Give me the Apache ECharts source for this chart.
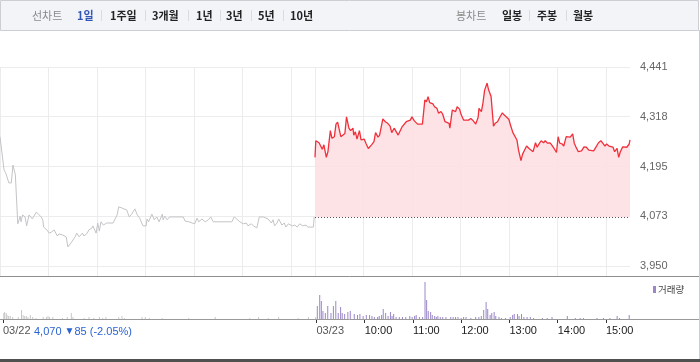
<!DOCTYPE html>
<html><head><meta charset="utf-8">
<script src="https://cdn.jsdelivr.net/npm/echarts@6.0.0/dist/echarts.min.js"></script>
<style>html,body{margin:0;padding:0;background:#fff}#c{width:700px;height:362px}</style>
</head><body><div id="c"></div>
<script>
// ---- data ----
const day1Minutes = [0,5,7,9,11,14,16,19,21,22,25,26,28,31,33,36,40,42,45,47,51,53,54,58,61,64,67,71,73,77,79,82,84,88,90,93,95,98,102,104,108,110,114,115,119,121,123,125,128,132,140,145,147,151,157,160,163,167,170,173,177,181,182,184,188,191,194,197,201,202,204,207,210,214,227,229,234,238,241,244,246,250,254,258,261,264,287,290,293,297,301,305,307,311,314,318,321,326,328,332,336,338,340,343,345,349,352,354,357,362,365,368,371,375,379,381,388,389];
const day1Prices = [4269,4187,4180,4182,4155,4155,4199,4175,4172,4054,4073,4059,4076,4071,4049,4076,4066,4068,4083,4081,4071,4064,4046,4039,4031,4034,4039,4024,4029,4027,4029,4022,3997,4007,4004,4022,4031,4022,4031,4024,4031,4039,4044,4049,4031,4056,4036,4059,4051,4056,4056,4076,4096,4093,4088,4071,4078,4091,4076,4068,4049,4049,4066,4059,4078,4064,4071,4059,4078,4064,4073,4064,4071,4071,4071,4061,4059,4056,4054,4068,4059,4066,4059,4064,4071,4059,4059,4071,4066,4059,4054,4056,4049,4054,4049,4044,4071,4071,4073,4066,4056,4064,4049,4056,4066,4051,4056,4046,4054,4049,4051,4046,4054,4049,4051,4046,4046,4071];
const day2Minutes = [390,391,395,399,401,404,406,409,411,414,416,418,420,422,424,427,429,432,434,437,438,440,442,445,447,451,453,456,460,463,465,468,470,474,477,480,483,485,488,490,493,495,498,500,503,505,508,510,513,514,517,523,526,528,530,532,536,538,541,543,546,548,551,553,556,557,560,562,564,566,569,571,574,580,583,586,589,592,593,596,598,600,603,605,608,611,613,616,618,620,622,624,626,630,632,635,637,640,642,645,647,650,652,655,657,660,663,665,668,670,673,675,678,681,683,686,689,691,693,696,698,701,703,706,709,711,713,716,720,723,726,729,731,735,738,741,744,746,749,751,754,756,759,761,764,766,768,771,776,779,780];
const day2Prices = [4218,4259,4254,4238,4249,4218,4232,4284,4265,4269,4300,4305,4305,4269,4265,4277,4318,4290,4284,4290,4273,4281,4263,4284,4261,4263,4253,4240,4249,4257,4279,4268,4273,4313,4306,4302,4295,4279,4290,4289,4273,4269,4294,4298,4306,4302,4310,4318,4308,4310,4300,4300,4360,4355,4368,4353,4350,4343,4339,4327,4331,4325,4306,4308,4302,4290,4335,4339,4331,4343,4337,4323,4310,4310,4314,4308,4300,4317,4339,4331,4353,4384,4401,4384,4368,4295,4302,4306,4314,4310,4328,4323,4325,4312,4298,4279,4281,4261,4236,4210,4226,4238,4246,4240,4243,4232,4254,4243,4253,4259,4254,4259,4253,4254,4249,4240,4230,4269,4253,4251,4246,4269,4265,4268,4276,4253,4244,4232,4234,4244,4243,4236,4240,4234,4244,4254,4259,4254,4246,4251,4246,4249,4243,4232,4240,4218,4232,4244,4243,4251,4261];
const prevClose = 4070;
const vol1Minutes = [1,2,4,5,7,9,12,19,23,25,27,29,31,34,37,41,50,54,56,58,62,74,80,85,87,101,107,113,120,124,128,144,148,151,173,177,182,198,231,264,307,318,330,343,367,380,389];
const vol1Values = [60,70,60,40,30,30,20,20,90,40,30,30,20,40,20,10,20,20,30,20,20,10,20,60,20,10,20,10,20,10,20,20,30,10,20,20,10,10,10,20,10,20,10,20,10,20,20];
const vol2Minutes = [391,394,396,398,401,404,408,411,414,417,420,422,425,429,432,437,441,444,448,452,456,459,462,466,468,471,473,476,479,482,484,486,489,493,497,501,506,509,512,514,518,522,525,527,529,532,534,537,539,541,544,547,551,557,560,563,566,570,573,576,582,588,592,595,598,601,603,606,608,611,613,617,620,625,631,634,636,640,642,645,648,652,656,660,671,677,683,702,712,718,722,739,747,755,764,767,779];
const vol2Values = [130,240,180,80,60,130,60,130,180,60,120,60,50,70,80,50,40,50,30,40,40,30,20,20,30,40,100,60,30,70,30,50,20,20,20,20,30,20,30,40,20,20,370,190,80,70,40,30,20,30,20,20,20,20,20,20,20,10,20,20,10,20,20,30,90,170,100,40,60,70,30,20,10,10,20,40,50,50,30,50,20,20,20,10,10,10,20,30,10,10,10,10,10,10,30,10,40];
const yTickValues = [3950, 4072.75, 4195.5, 4318.25, 4441];
const yTickLabels = ['3,950','4,073','4,195','4,318','4,441'];
const gridMinutes = [0,60,120,180,240,300,360,390,450,510,570,630,690,750];
const xTickMinutes = [0,390,450,510,570,630,690,750];
const xTickLabels = ['03/22','03/23','10:00','11:00','12:00','13:00','14:00','15:00'];
const periodTabs = ['1일','1주일','3개월','1년','3년','5년','10년'];
const candleTabs = ['일봉','주봉','월봉'];
const lineTabTitle = '선차트';
const candleTabTitle = '봉차트';
const volumeLegend = '거래량';
const dayInfoText = '4,070 {t|▼}85 (-2.05%)';

// ---- layout ----
const periodTabX = [77,110,152,196,226,258,290];
const periodSepX = [101,145,188,220,251,283];
const candleTabX = [502,537,573];
const candleSepX = [529,566];
const FONT_NUM = '"Liberation Sans", Arial, sans-serif';
const FONT_KR = '"Noto Sans CJK KR", sans-serif';

const pair = (xs, ys) => xs.map((x, i) => [x, ys[i]]);

const graphics = [];
graphics.push({type:'rect', shape:{x:0.5,y:0.5,width:698,height:30}, style:{fill:'#f3f4f8', stroke:'#cdced4', lineWidth:1}, z:10});
graphics.push({type:'text', style:{text:lineTabTitle, x:32, y:15.5, fill:'#8a8a8a', font:'11px '+FONT_KR, verticalAlign:'middle'}, z:11});
periodTabs.forEach((t, i) => graphics.push({type:'text', style:{text:t, x:periodTabX[i], y:15.5, fill: i===0?'#3157b5':'#222', font:'bold 11px '+FONT_KR, verticalAlign:'middle'}, z:11}));
periodSepX.forEach(x => graphics.push({type:'line', shape:{x1:x+0.5,y1:10,x2:x+0.5,y2:21}, style:{stroke:'#dcdcdf', lineWidth:1}, z:11}));
graphics.push({type:'text', style:{text:candleTabTitle, x:456, y:15.5, fill:'#8a8a8a', font:'11px '+FONT_KR, verticalAlign:'middle'}, z:11});
candleTabs.forEach((t, i) => graphics.push({type:'text', style:{text:t, x:candleTabX[i], y:15.5, fill:'#222', font:'bold 11px '+FONT_KR, verticalAlign:'middle'}, z:11}));
candleSepX.forEach(x => graphics.push({type:'line', shape:{x1:x+0.5,y1:10,x2:x+0.5,y2:21}, style:{stroke:'#dcdcdf', lineWidth:1}, z:11}));
graphics.push({type:'line', shape:{x1:699.5,y1:30,x2:699.5,y2:362}, style:{stroke:'#cdced4', lineWidth:1}, z:10});
graphics.push({type:'line', shape:{x1:0,y1:276.5,x2:699,y2:276.5}, style:{stroke:'#8f8f8f', lineWidth:1}, z:10});
graphics.push({type:'line', shape:{x1:0,y1:319.5,x2:699,y2:319.5}, style:{stroke:'#9a9a9a', lineWidth:1}, z:10});
graphics.push({type:'rect', shape:{x:0,y:359,width:700,height:3}, style:{fill:'#505050'}, z:10});
graphics.push({type:'rect', shape:{x:653,y:286,width:3,height:7}, style:{fill:'#9a86c8'}, z:10});
graphics.push({type:'text', style:{text:volumeLegend, x:658, y:289.5, fill:'#444', font:'9.5px '+FONT_KR, verticalAlign:'middle'}, z:10});
graphics.push({type:'text', style:{text:dayInfoText, x:34, y:331.5, fill:'#2a63d2', font:'11px '+FONT_NUM, verticalAlign:'middle', rich:{t:{fontSize:10, fill:'#2a63d2'}}}, z:10});

const option = {
  animation: false,
  backgroundColor: '#fff',
  graphic: graphics,
  grid: [
    {left:0, right:70, top:67, height:209},
    {left:0, right:70, top:281, height:38}
  ],
  xAxis: [
    {type:'value', gridIndex:0, min:0, max:780, axisLine:{show:false},
     axisTick:{show:false, customValues:gridMinutes}, axisLabel:{show:false},
     splitLine:{show:true, lineStyle:{color:'#ececee', width:1}}},
    {type:'value', gridIndex:1, min:0, max:780, axisLine:{show:false},
     axisTick:{show:true, customValues:xTickMinutes, length:4, lineStyle:{color:'#333'}},
     axisLabel:{customValues:xTickMinutes, align:'left', margin:6, fontSize:11, fontFamily:FONT_NUM,
       formatter: v => xTickLabels[xTickMinutes.indexOf(+v)],
       color: v => (+v === 0 || +v === 390) ? '#555' : '#222'},
     splitLine:{show:false}}
  ],
  yAxis: [
    {type:'value', gridIndex:0, position:'right', min:3925.3, max:4441, axisLine:{show:false},
     axisTick:{show:false, customValues:yTickValues},
     axisLabel:{customValues:yTickValues, margin:10, fontSize:11, fontFamily:FONT_NUM, color:'#666',
       formatter: v => yTickLabels[yTickValues.findIndex(t => Math.abs(t - v) < 0.01)]},
     splitLine:{show:true, lineStyle:{color:'#ececee', width:1}}},
    {type:'value', gridIndex:1, min:0, max:380, show:false, splitLine:{show:false}}
  ],
  series: [
    {type:'line', xAxisIndex:0, yAxisIndex:0, data:pair(day1Minutes, day1Prices), symbol:'none',
     lineStyle:{color:'#c4c4c8', width:1}, silent:true},
    {type:'line', xAxisIndex:0, yAxisIndex:0, data:pair(day2Minutes, day2Prices), symbol:'none',
     lineStyle:{color:'#f0303b', width:1.3}, silent:true,
     areaStyle:{color:'#fde0e3', opacity:0.9, origin:prevClose},
     markLine:{silent:true, symbol:['none','none'], label:{show:false},
       lineStyle:{type:[1,2], color:'#555', width:1},
       data:[[{coord:[390, prevClose]},{coord:[780, prevClose]}]]}},
    {type:'bar', xAxisIndex:1, yAxisIndex:1, data:pair(vol1Minutes, vol1Values), barWidth:1, barGap:'-100%',
     itemStyle:{color:'#c8c8c8'}, silent:true},
    {type:'bar', xAxisIndex:1, yAxisIndex:1, data:pair(vol2Minutes, vol2Values), barWidth:1, barGap:'-100%',
     itemStyle:{color:'#9a86c8'}, silent:true}
  ]
};
const chart = echarts.init(document.getElementById('c'), null, {width:700, height:362});
chart.setOption(option);
</script>
</body></html>
